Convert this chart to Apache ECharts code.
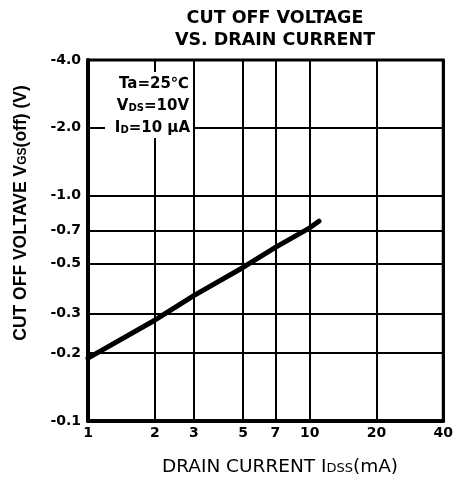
<!DOCTYPE html>
<html>
<head>
<meta charset="utf-8">
<script src="https://cdn.jsdelivr.net/npm/echarts@6/dist/echarts.min.js"></script>
<style>html,body{margin:0;padding:0;background:#fff;}#c{width:456px;height:490px;}</style>
</head>
<body>
<div id="c"></div>
<script>
// Drain current (mA) and cut-off voltage magnitude |VGS(off)| (V)
var drainCurrent = [1, 2, 3, 5, 7, 10, 11];
var cutOffVoltage = [0.19, 0.28, 0.36, 0.48, 0.59, 0.72, 0.77];
var xTicks = [1, 2, 3, 5, 7, 10, 20, 40];
var yTicks = [0.1, 0.2, 0.3, 0.5, 0.7, 1.0, 2.0, 4.0];

var BOLD = '"DejaVu Sans", Verdana, sans-serif';
var FONT = '"Liberation Sans", Arial, Helvetica, sans-serif';
var lg = function (v) { return Math.log10(v); };

var chart = echarts.init(document.getElementById('c'), null, {renderer: 'canvas'});
chart.setOption({
  backgroundColor: '#fff',
  animation: false,
  title: {
    text: 'CUT OFF VOLTAGE\nVS. DRAIN CURRENT',
    left: 270, top: 2, textAlign: 'center',
    textStyle: {fontFamily: BOLD, fontSize: 17.5, fontWeight: 'bold', color: '#000', lineHeight: 22}
  },
  grid: {left: 88, right: 11, top: 60, bottom: 69, show: true, borderColor: '#000', borderWidth: 3, backgroundColor: '#fff'},
  xAxis: {
    type: 'value', min: lg(1), max: lg(40),
    axisLine: {show: true, onZero: false, lineStyle: {color: '#000', width: 4}},
    axisTick: {show: false, customValues: xTicks.map(lg)},
    axisLabel: {customValues: xTicks.map(lg), formatter: function (v) { return String(Math.round(Math.pow(10, v))); },
      fontFamily: BOLD, fontSize: 14, fontWeight: 'bold', color: '#000', margin: 5},
    splitLine: {show: true, lineStyle: {color: '#000', width: 2}}
  },
  yAxis: {
    type: 'value', min: lg(0.1), max: lg(4),
    axisLine: {show: true, onZero: false, lineStyle: {color: '#000', width: 4}},
    axisTick: {show: false, customValues: yTicks.map(lg)},
    axisLabel: {customValues: yTicks.map(lg), formatter: function (v) { return '-' + Math.pow(10, v).toFixed(1); },
      fontFamily: BOLD, fontSize: 14, fontWeight: 'bold', color: '#000', margin: 7},
    splitLine: {show: true, lineStyle: {color: '#000', width: 2}}
  },
  graphic: [
    {type: 'text', x: 21, y: 213, rotation: Math.PI / 2, z: 100,
      style: {text: 'CUT OFF VOLTAVE V{s|GS}(off) (V)', x: 0, y: 0, align: 'center', verticalAlign: 'middle',
        font: 'bold 17.5px ' + FONT, fill: '#000',
        rich: {s: {font: 'bold 12px ' + FONT, fill: '#000', padding: [4, 0, 0, 0]}}}},
    {type: 'text', x: 280, y: 467, z: 100,
      style: {text: 'DRAIN CURRENT I{s|DSS}(mA)', x: 0, y: 0, align: 'center', verticalAlign: 'middle',
        font: '18.5px ' + BOLD, fill: '#000',
        rich: {s: {font: '13px ' + BOLD, fill: '#000', padding: [4, 0, 0, 0]}}}},
    {type: 'rect', z: 90, shape: {x: 105, y: 72, width: 88, height: 66}, style: {fill: '#fff'}},
    {type: 'text', z: 100, style: {text: 'Ta=25℃', x: 189, y: 84, align: 'right', verticalAlign: 'middle',
        font: 'bold 15px ' + BOLD, fill: '#000'}},
    {type: 'text', z: 100, style: {text: 'V{s|DS}=10V', x: 189, y: 106, align: 'right', verticalAlign: 'middle',
        font: 'bold 15px ' + BOLD, fill: '#000',
        rich: {s: {font: 'bold 10px ' + BOLD, fill: '#000', padding: [4, 0, 0, 0]}}}},
    {type: 'text', z: 100, style: {text: 'I{s|D}=10 μA', x: 190, y: 128, align: 'right', verticalAlign: 'middle',
        font: 'bold 15px ' + BOLD, fill: '#000',
        rich: {s: {font: 'bold 10px ' + BOLD, fill: '#000', padding: [4, 0, 0, 0]}}}}
  ],
  series: [{
    type: 'line',
    data: drainCurrent.map(function (x, i) { return [lg(x), lg(cutOffVoltage[i])]; }),
    showSymbol: false, symbol: 'none',
    lineStyle: {color: '#000', width: 5, cap: 'round'},
    z: 10
  }]
});
</script>
</body>
</html>
